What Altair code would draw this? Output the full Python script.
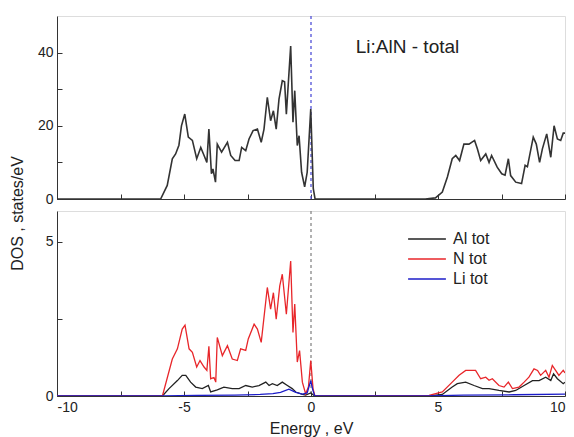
import altair as alt
import pandas as pd

# Total DOS (top panel)
tot_E = [-10, -5.92, -5.66, -5.46, -5.33, -5.2, -5.1, -4.97, -4.83, -4.67, -4.5, -4.34, -4.21, -4.1,
         -4.02, -3.92, -3.86, -3.76, -3.69, -3.52, -3.29, -3.16, -2.99, -2.83, -2.73, -2.57, -2.44,
         -2.28, -2.11, -1.96, -1.85, -1.72, -1.59, -1.48, -1.37, -1.26, -1.13, -1.04, -0.97, -0.80,
         -0.71, -0.64, -0.54, -0.47, -0.37, -0.25, -0.15, -0.01, 0.09, 0.16,
         4.5, 4.9, 5.17, 5.37, 5.56, 5.70, 5.85, 6.02, 6.22, 6.44, 6.55, 6.68, 6.88, 7.01, 7.11,
         7.33, 7.51, 7.64, 7.77, 7.86, 8.06, 8.29, 8.43, 8.52, 8.75, 8.87, 9.0, 9.11, 9.28, 9.44,
         9.57, 9.70, 9.83, 9.93, 10]
tot_V = [0, 0, 3.7, 11, 12.3, 14.7, 20, 23.2, 16.9, 16, 11, 14.1, 11.9, 10,
         19.1, 6.9, 8.2, 4.6, 15, 12.8, 15.5, 11.9, 10.5, 10.5, 14.1, 13.2, 16.4,
         18.7, 19.1, 15.5, 19.1, 27.8, 21.4, 24.1, 19.1, 27.3, 32.3, 32, 23.2, 41.8,
         21, 29.6, 14.6, 17.3, 7.3, 3.3, 7.3, 24.6, 2.8, 0,
         0, 0.3, 1.9, 6, 11, 11.9, 10.5, 15, 15, 16, 13.7, 10.5, 12.3, 10, 11.9,
         8.7, 6.9, 6.5, 11, 6.4, 4.6, 4.2, 9.2, 8.8, 16.9, 15, 10, 13.7, 17.8, 11.4,
         20, 16.4, 16, 18, 18]

# N tot (bottom panel)
n_E = [-10, -5.85, -5.46, -5.26, -5.07, -4.96, -4.80, -4.67, -4.5, -4.37, -4.21, -4.1, -4.02, -3.95,
       -3.82, -3.75, -3.69, -3.49, -3.29, -3.1, -2.9, -2.77, -2.57, -2.47, -2.24, -2.11, -1.96,
       -1.72, -1.59, -1.48, -1.37, -1.23, -1.13, -0.97, -0.80, -0.71, -0.64, -0.54, -0.45, -0.34,
       -0.21, -0.1, -0.01, 0.08, 0.15,
       4.65, 5.17, 5.56, 5.83, 6.09, 6.48, 6.68, 6.88, 7.01, 7.14, 7.4, 7.6, 7.77, 7.93, 8.19,
       8.39, 8.58, 8.78, 8.92, 9.04, 9.24, 9.37, 9.5, 9.63, 9.76, 9.93, 10]
n_V = [0, 0, 1.2, 1.53, 2.17, 2.3, 1.53, 1.42, 0.94, 1.15, 0.94, 0.83, 1.61, 0.56,
       0.6, 0.45, 1.9, 1.31, 1.63, 1.2, 1.15, 1.53, 1.48, 1.85, 2.33, 2.17, 1.74,
       3.52, 2.82, 3.35, 2.49, 3.57, 3.95, 2.65, 4.38, 2.06, 2.98, 1.1, 1.47, 0.45,
       0.07, 0.3, 1.15, 0.24, 0,
       0.02, 0.13, 0.45, 0.67, 0.83, 0.83, 0.56, 0.61, 0.51, 0.56, 0.34, 0.29, 0.45, 0.24, 0.29,
       0.45, 0.61, 0.88, 0.83, 0.67, 0.83, 0.61, 0.99, 0.83, 0.67, 0.83, 0.75]

# Al tot (bottom panel)
al_E = [-10, -5.85, -5.59, -5.26, -5.07, -4.93, -4.74, -4.54, -4.28, -4.04, -3.95, -3.69, -3.43,
        -3.1, -2.83, -2.57, -2.31, -2.05, -1.78, -1.65, -1.52, -1.33, -1.13, -0.93, -0.74, -0.6,
        -0.34, -0.21, -0.01, 0.15,
        4.65, 5.17, 5.56, 5.76, 6.09, 6.42, 6.75, 7.01, 7.4, 7.8, 8.06, 8.39, 8.72, 8.98, 9.24,
        9.44, 9.55, 9.7, 9.93, 10]
al_V = [0, 0, 0.24, 0.5, 0.67, 0.67, 0.45, 0.29, 0.24, 0.34, 0.13, 0.2, 0.29,
        0.24, 0.24, 0.34, 0.29, 0.34, 0.45, 0.34, 0.4, 0.34, 0.45, 0.34, 0.24, 0.13,
        0.05, 0.03, 0.1, 0,
        0, 0.05, 0.29, 0.4, 0.45, 0.34, 0.24, 0.24, 0.18, 0.13, 0.18, 0.34, 0.5, 0.5, 0.61,
        0.5, 0.72, 0.56, 0.4, 0.45]

# Li tot (bottom panel)
li_E = [-10, -5.85, -4.5, -3.0, -2.0, -1.5, -1.2, -0.87, -0.6, -0.34, -0.15, -0.01, 0.07, 0.15,
        4.6, 6.0, 8.0, 10]
li_V = [0, 0, 0.02, 0.03, 0.05, 0.08, 0.12, 0.22, 0.12, 0.06, 0.1, 0.5, 0.2, 0,
        0, 0.03, 0.04, 0.06]

series_names = ["Al tot", "N tot", "Li tot"]
series_colors = ["#222222", "#e8262a", "#1c1cc8"]

x_ticks = [-10, -7.5, -5, -2.5, 0, 2.5, 5, 7.5, 10]
top_ticks = [0, 10, 20, 30, 40]
bot_ticks = [0, 2.5, 5]

tot_df = pd.DataFrame({"E": tot_E, "V": tot_V})
part_df = pd.concat([
    pd.DataFrame({"E": al_E, "V": al_V, "s": "Al tot"}),
    pd.DataFrame({"E": n_E, "V": n_V, "s": "N tot"}),
    pd.DataFrame({"E": li_E, "V": li_V, "s": "Li tot"}),
])
part_df["o"] = part_df["s"].map({n: i for i, n in enumerate(series_names)})
note_df = pd.DataFrame({"E": [3.8], "V": [41.4], "t": ["Li:AlN - total"]})
zero_df = pd.DataFrame({"E": [0]})

FONT = "Liberation Sans"
W = 508

xscale = alt.Scale(domain=[-10, 10], nice=False, zero=False)

def xaxis(labels):
    return alt.Axis(values=x_ticks, tickSize={"expr": "-5"}, labels=labels,
                    labelExpr="datum.value % 5 == 0 ? '' + datum.value : ''",
                    labelPadding=9, labelFontSize=14, labelFont=FONT, labelColor="#222",
                    grid=False, domainColor="#333", tickColor="#333",
                    title="Energy , eV" if labels else None,
                    titleFontSize=16, titleFont=FONT, titleFontWeight="normal",
                    titleColor="#222", titlePadding=6)

top_line = alt.Chart(tot_df).mark_line(color="#333333", strokeWidth=1.6, clip=True).encode(
    x=alt.X("E:Q", scale=xscale, axis=xaxis(False)),
    y=alt.Y("V:Q", scale=alt.Scale(domain=[0, 50], nice=False),
            axis=alt.Axis(values=top_ticks, tickSize={"expr": "-5"},
                          labelExpr="datum.value % 20 == 0 ? '' + datum.value : ''",
                          labelPadding=9, labelFontSize=14, labelFont=FONT, labelColor="#222",
                          grid=False, domainColor="#333", tickColor="#333", title=None)),
)
top_rule = alt.Chart(zero_df).mark_rule(color="#5050d8", strokeDash=[3, 3], strokeWidth=1.3).encode(
    x=alt.X("E:Q", scale=xscale))
top_text = alt.Chart(note_df).mark_text(fontSize=19, font=FONT, color="#222").encode(
    x=alt.X("E:Q", scale=xscale), y=alt.Y("V:Q"), text="t:N")
top = alt.layer(top_rule, top_line, top_text).properties(width=W, height=183)

bot_lines = alt.Chart(part_df).mark_line(strokeWidth=1.3, clip=True).encode(
    x=alt.X("E:Q", scale=xscale, axis=xaxis(True)),
    y=alt.Y("V:Q", scale=alt.Scale(domain=[0, 6], nice=False),
            axis=alt.Axis(values=bot_ticks, tickSize={"expr": "-5"},
                          labelExpr="datum.value % 5 == 0 ? '' + datum.value : ''",
                          labelPadding=9, labelFontSize=14, labelFont=FONT, labelColor="#222",
                          grid=False, domainColor="#333", tickColor="#333",
                          title="DOS , states/eV", titleFontSize=16, titleFont=FONT,
                          titleFontWeight="normal", titleColor="#222",
                          titleAngle=270, titleX=-40, titleY=2, titleAlign="center",
                          titleBaseline="middle")),
    color=alt.Color("s:N", scale=alt.Scale(domain=series_names, range=series_colors),
                    legend=alt.Legend(title=None, orient="none", legendX=362, legendY=215,
                                      symbolType="M-2.7,0L2.7,0", symbolSize=196,
                                      symbolStrokeWidth=1.3, labelFontSize=16, labelFont=FONT,
                                      labelColor="#222", rowPadding=4, labelOffset=18)),
    order="o:Q",
)
bot_rule = alt.Chart(zero_df).mark_rule(color="#888888", strokeDash=[3, 3], strokeWidth=1.3).encode(
    x=alt.X("E:Q", scale=xscale))
bot = alt.layer(bot_rule, bot_lines).properties(width=W, height=185)

chart = alt.vconcat(top, bot, spacing=12, bounds="flush").properties(
    padding={"left": 8, "top": 14, "right": 0, "bottom": 0}
).configure_view(stroke="#333", strokeWidth=1).configure(background="white")

chart.save("out.html", embed_options={"renderer": "svg", "actions": False})
